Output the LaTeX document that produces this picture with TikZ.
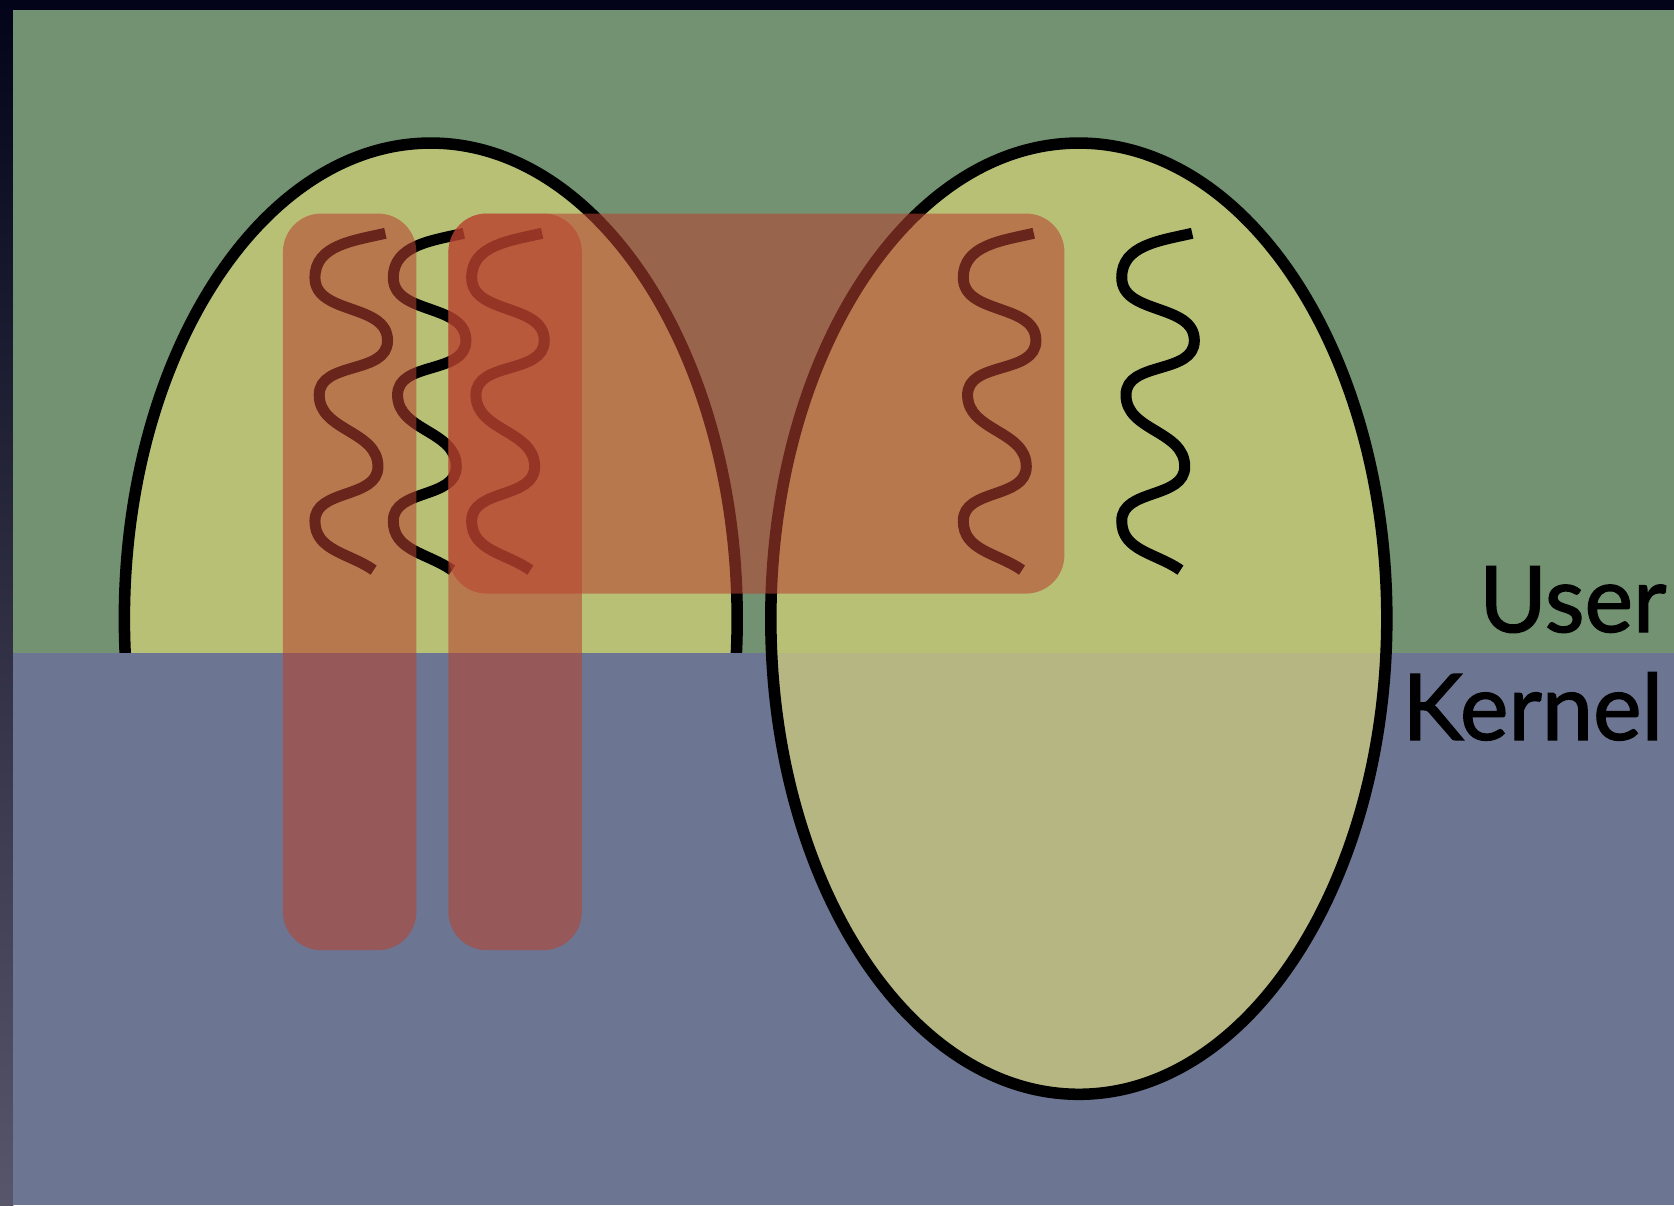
\documentclass[tikz,border=0pt]{standalone}
\usepackage{fontspec}
\setmainfont{Lato}
\newfontfamily\lblfont{Lato}[FakeBold=1.5]
\definecolor{usergreen}{RGB}{114,146,113}
\definecolor{kernblue}{RGB}{108,117,146}
\definecolor{ellcol}{RGB}{226,220,122}
\definecolor{redcol}{RGB}{184,66,48}
\definecolor{framedark}{RGB}{3,4,26}
\definecolor{framelow}{RGB}{88,86,106}
\tikzset{
  ell/.style={fill=ellcol, fill opacity=0.63, draw=black, draw opacity=1, line width=10.8pt},
  redbox/.style={fill=redcol, fill opacity=0.57, rounded corners=36pt},
  squig/.style={draw=black, line width=10.3pt},
  lbl/.style={font=\lblfont\fontsize{86}{90}\selectfont, text=black, inner sep=0pt, anchor=base east}
}
\begin{document}
\begin{tikzpicture}[x=1pt,y=-1pt]
\useasboundingbox (0,0) rectangle (1568,1129);
% frame
\fill[framedark] (0,0) rectangle (1568,10);
\shade[top color=framedark, bottom color=framelow] (0,0) rectangle (12.5,1129);
% regions
\fill[usergreen] (12.5,9.5) rectangle (1568,612);
% left process (user part only)
\begin{scope}
  \clip (12.5,9.5) rectangle (1568,612);
  \draw[ell] (403.5,579.5) ellipse [x radius=287, y radius=445.5];
\end{scope}
\fill[kernblue] (12.5,612) rectangle (1568,1129);
% right process
\draw[ell] (1010.5,579.5) ellipse [x radius=288.5, y radius=445.5];
% threads
\foreach \x in {295,368.4,441.8,902.3,1050.7}{
  \draw[squig] (\x+66,218.5) to[out=193,in=90] (\x,260)
     to[out=270,in=90] (\x+68,319)
     to[out=270,in=90] (\x+4,370)
     to[out=270,in=90] (\x+59,437)
     to[out=270,in=90] (\x,488)
     to[out=270,in=145] (\x+55,534);
}
% schedulable entities
\fill[redbox] (265,200) rectangle (390,890);
\fill[redbox] (420,200) rectangle (545,890);
\fill[redbox] (420,200) rectangle (997,556);
% labels
\node[lbl] (user) at (1561,592) {User};
\node[lbl] (kernel) at (1558,693) {Kernel};
\end{tikzpicture}
\end{document}
